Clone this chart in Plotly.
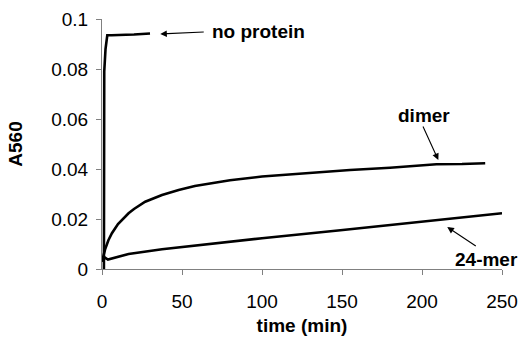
import plotly.graph_objects as go

# ---- data ----
np_t = [1.2, 1.4, 2.2, 3.3, 6, 10, 15, 20, 25, 28, 30]
np_v = [0.0, 0.079, 0.088, 0.0935, 0.0935, 0.0937, 0.0937, 0.0938, 0.094, 0.0942, 0.0942]

dimer_t = [0, 1, 2, 4, 6.2, 10, 16.6, 20, 27, 37.5, 47.9, 58, 69.8, 80, 100, 120, 155, 180, 209, 225, 239.5]
dimer_v = [0.003, 0.0055, 0.008, 0.0115, 0.0143, 0.018, 0.0223, 0.024, 0.0269, 0.0296, 0.0316, 0.0332,
           0.0345, 0.0355, 0.037, 0.038, 0.0396, 0.0405, 0.0419, 0.042, 0.0423]

mer_t = [0, 2, 3.7, 10, 16.6, 37.5, 69.8, 82, 100, 149, 155, 200, 250]
mer_v = [0.003, 0.0045, 0.0038, 0.005, 0.006, 0.0079, 0.0103, 0.011, 0.0123, 0.0155, 0.0159, 0.019, 0.0223]

x_ticks = [0, 50, 100, 150, 200, 250]
y_ticks = [0, 0.02, 0.04, 0.06, 0.08, 0.1]
y_ticktext = ["0", "0.02", "0.04", "0.06", "0.08", "0.1"]

FONT = "Liberation Sans, Arial, sans-serif"

fig = go.Figure()
for t, v in [(np_t, np_v), (dimer_t, dimer_v), (mer_t, mer_v)]:
    fig.add_trace(go.Scatter(x=t, y=v, mode="lines",
                             line=dict(color="black", width=2.6), showlegend=False))

axis_common = dict(showgrid=False, zeroline=False, showline=True, linecolor="#808080",
                   linewidth=1, ticks="outside", ticklen=5, tickcolor="#808080", automargin=False,
                   tickfont=dict(family=FONT, size=19, color="black"))

fig.update_xaxes(range=[0, 250], tickvals=x_ticks, ticklabelstandoff=10,
                 title=dict(text="<b>time (min)</b>", font=dict(family=FONT, size=19, color="black"),
                            standoff=7),
                 **axis_common)
fig.update_yaxes(range=[0, 0.1], tickvals=y_ticks, ticktext=y_ticktext, ticklabelstandoff=4,
                 title=dict(text="<b>A560</b>", font=dict(family=FONT, size=19, color="black"),
                            standoff=23),
                 **axis_common)

bold = dict(family=FONT, size=19, color="black")
arrow = dict(showarrow=True, arrowhead=2, arrowsize=1.2, arrowwidth=1.1, arrowcolor="black",
             text="", xref="x", yref="y", axref="pixel", ayref="pixel")
fig.add_annotation(x=36.4, y=0.094, ax=45, ay=-2, **arrow)
fig.add_annotation(x=210.2, y=0.0436, ax=-16, ay=-35, **arrow)
fig.add_annotation(x=215.8, y=0.0168, ax=30, ay=20, **arrow)

fig.add_annotation(x=67.7, y=0.0952, text="<b>no protein</b>", showarrow=False,
                   xanchor="left", yanchor="middle", font=bold)
fig.add_annotation(x=201.5, y=0.0616, text="<b>dimer</b>", showarrow=False,
                   xanchor="center", yanchor="middle", font=bold)
fig.add_annotation(x=240.5, y=0.004, text="<b>24-mer</b>", showarrow=False,
                   xanchor="center", yanchor="middle", font=bold)

fig.update_layout(width=521, height=343, margin=dict(l=102, r=19, t=19, b=74),
                  plot_bgcolor="white", paper_bgcolor="white")

# remove the page's default body margin so the figure fills the window exactly
fig.write_html("out.html", config={"displayModeBar": False},
               post_script="document.body.style.margin='0';document.body.style.overflow='hidden';")
